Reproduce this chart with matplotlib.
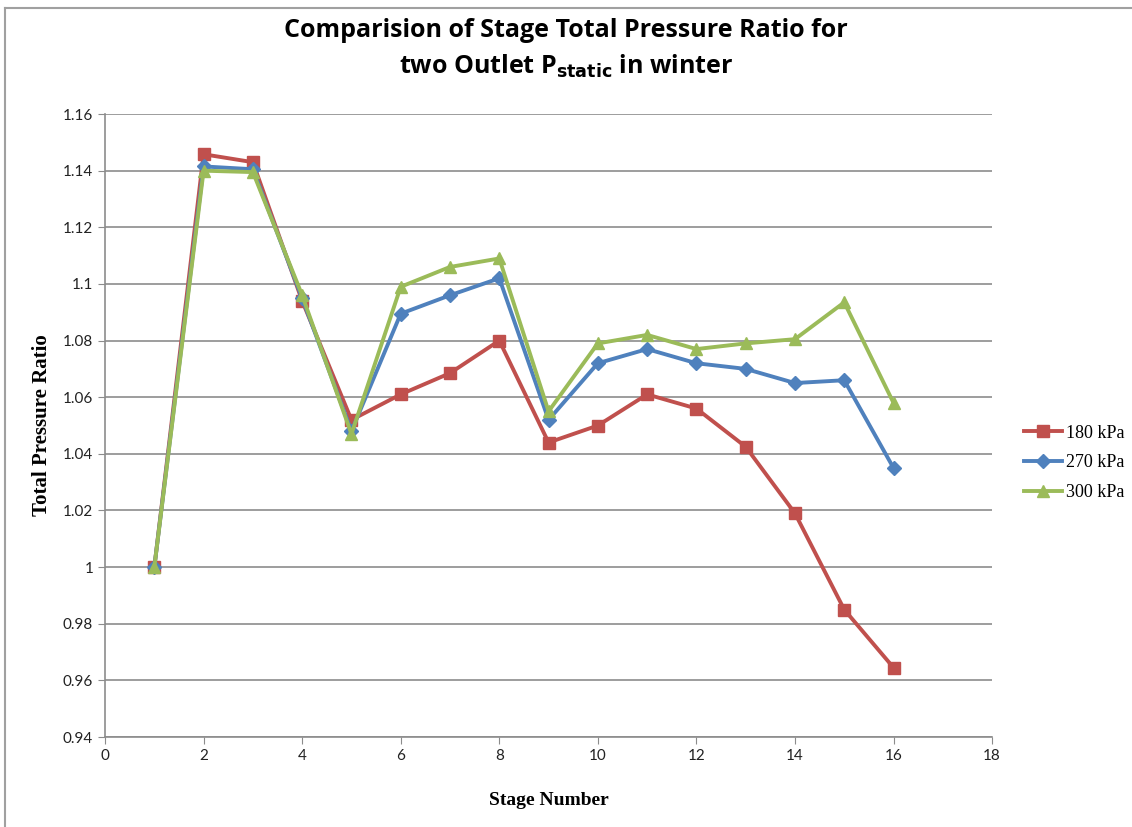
import numpy as np
import matplotlib
matplotlib.use("Agg")
import matplotlib.pyplot as plt
from matplotlib.lines import Line2D
from matplotlib.ticker import FuncFormatter

# Datos
stages = [1, 2, 3, 4, 5, 6, 7, 8, 9, 10, 11, 12, 13, 14, 15, 16]
p180 = [1.000, 1.1458, 1.143, 1.094, 1.052, 1.061, 1.0685, 1.080,
        1.044, 1.050, 1.061, 1.056, 1.0425, 1.019, 0.985, 0.9645]
p270 = [1.000, 1.1415, 1.1405, 1.095, 1.048, 1.0895, 1.096, 1.102,
        1.052, 1.072, 1.077, 1.072, 1.070, 1.065, 1.066, 1.035]
p300 = [1.000, 1.140, 1.1395, 1.096, 1.047, 1.099, 1.106, 1.109,
        1.055, 1.079, 1.082, 1.077, 1.079, 1.0805, 1.0935, 1.058]
labels = ["180 kPa", "270 kPa", "300 kPa"]

fig = plt.figure(figsize=(11.32, 8.27), dpi=100)
ax = fig.add_axes([0.0928, 0.1088, 0.7836, 0.7533])

ax.plot(stages, p180, color="#C0504D", lw=2.8, marker="s", ms=9, label=labels[0])
ax.plot(stages, p270, color="#4F81BD", lw=2.8, marker="D", ms=7, label=labels[1])
ax.plot(stages, p300, color="#9BBB59", lw=2.8, marker="^", ms=9, label=labels[2])

ax.set_xlim(0, 18)
ax.set_ylim(0.94, 1.16)
ax.set_xticks(np.arange(0, 19, 2))
ax.set_yticks(np.arange(0.94, 1.1601, 0.02))
ax.yaxis.set_major_formatter(FuncFormatter(lambda v, p: f"{v:g}"))
ax.grid(axis="y", color="#8C8C8C", lw=1.2)
ax.set_axisbelow(True)
for s in ["top", "right"]:
    ax.spines[s].set_visible(False)
for s in ["left", "bottom"]:
    ax.spines[s].set_color("#8C8C8C")
    ax.spines[s].set_linewidth(1.2)
ax.tick_params(direction="out", length=5, color="#8C8C8C", labelsize=11,
               labelcolor="#222222")
for t in ax.get_xticklabels() + ax.get_yticklabels():
    t.set_family("Lato")

ax.set_xlabel("Stage Number", family="Liberation Serif", fontweight="bold",
              fontsize=14, labelpad=21)
ax.set_ylabel("Total Pressure Ratio", family="Liberation Serif", fontweight="bold",
              fontsize=15, labelpad=8)

fig.text(0.5, 0.963, "Comparision of Stage Total Pressure Ratio for",
         ha="center", va="center", fontsize=18, fontweight="bold", family="Open Sans")
fig.text(0.5, 0.920, r"two Outlet P$_{\mathbf{static}}$ in winter",
         ha="center", va="center", fontsize=18, fontweight="bold", family="Open Sans")

leg = ax.legend(loc="center left", bbox_to_anchor=(1.018, 0.44), frameon=False,
                prop={"family": "Liberation Serif", "size": 13}, handlelength=2.1,
                labelspacing=0.7, handletextpad=0.2)

# Borde tipo Excel (izquierda y arriba)
fig.add_artist(Line2D([0.0045, 0.0045], [0.0, 0.99], color="#A0A0A0", lw=1.5,
                      transform=fig.transFigure))
fig.add_artist(Line2D([0.0045, 1.0], [0.99, 0.99], color="#A0A0A0", lw=1.5,
                      transform=fig.transFigure))

fig.savefig("out.png", dpi=100)
